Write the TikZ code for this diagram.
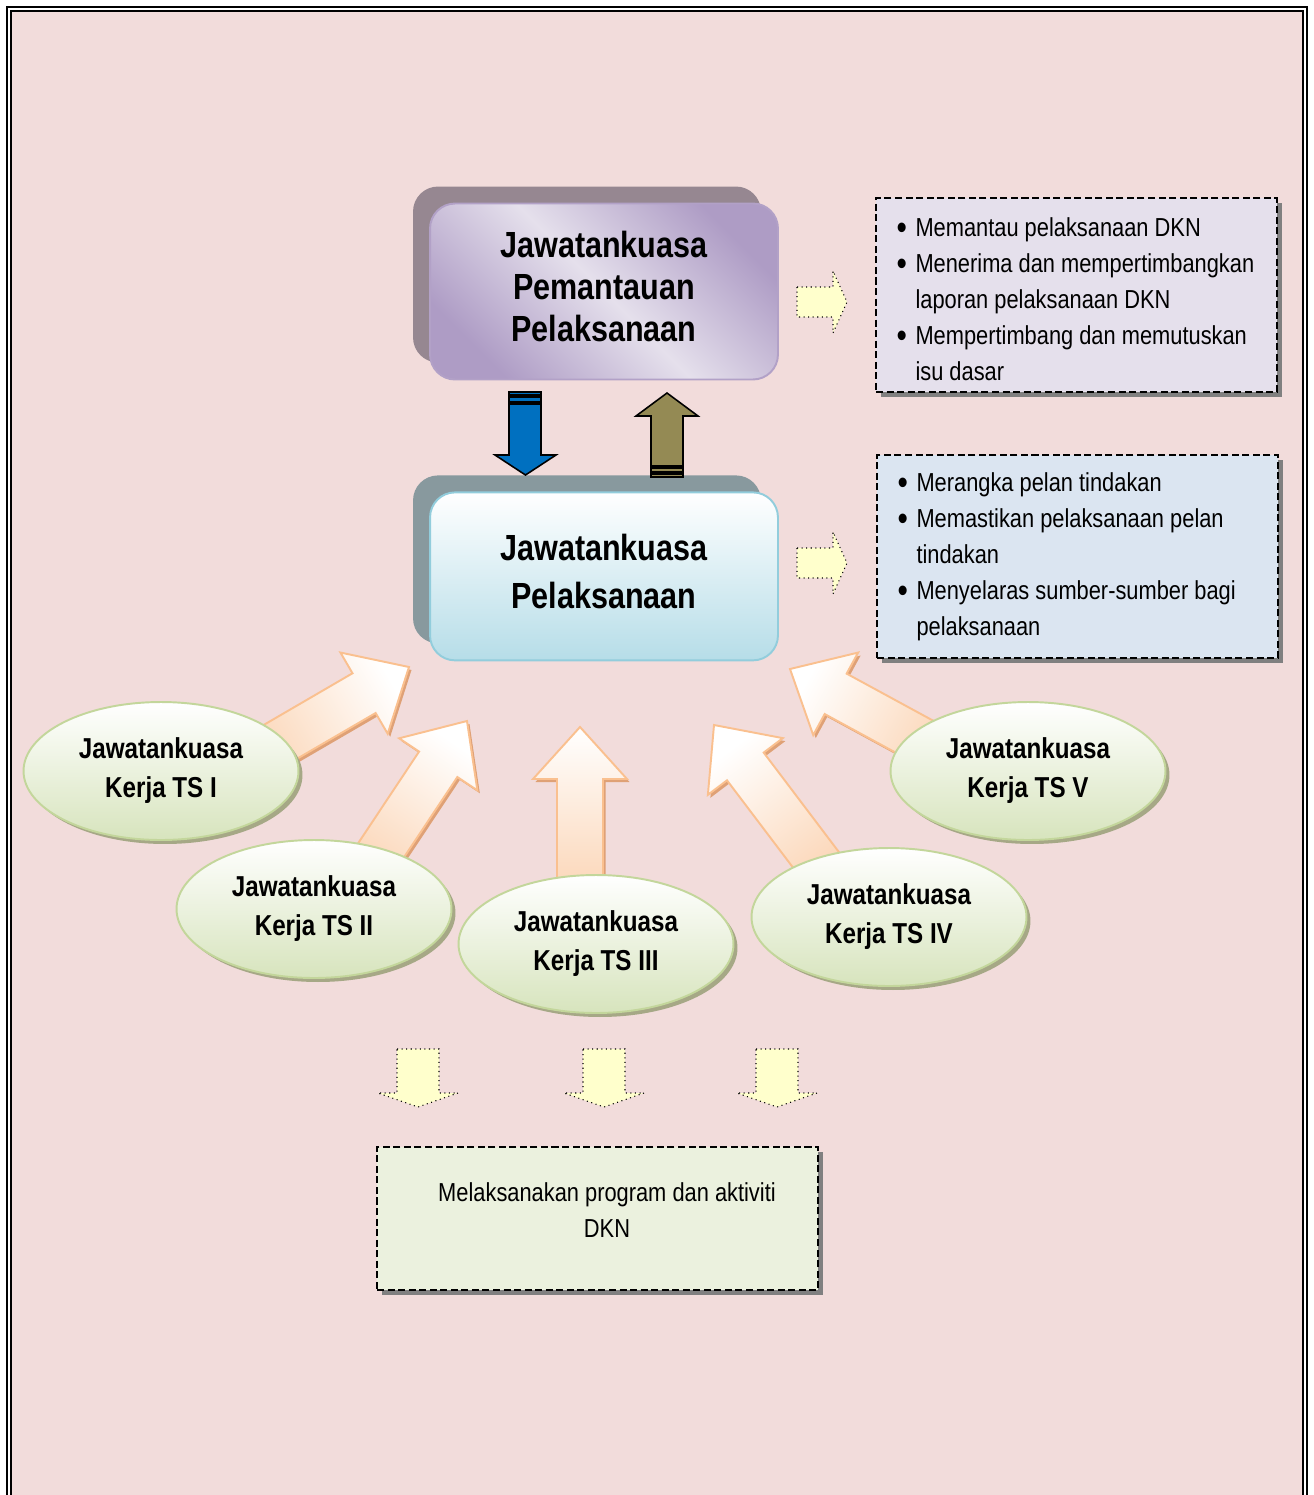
\documentclass[tikz,border=0pt]{standalone}
\usepackage{fontspec}
\setmainfont{Liberation Sans}[FakeStretch=0.84]
\usepackage{tikz}
\usetikzlibrary{positioning,calc,shadows,shapes.geometric}

\definecolor{bgpink}{HTML}{F2DCDB}
\definecolor{lavlite}{HTML}{E5E0EC}
\definecolor{lavdark}{HTML}{AE9CC5}
\definecolor{lavline}{HTML}{B2A1C7}
\definecolor{mauveshadow}{HTML}{968791}
\definecolor{tealfill}{HTML}{B6DDE8}
\definecolor{tealline}{HTML}{92CDDC}
\definecolor{slateshadow}{HTML}{88999E}
\definecolor{bluelite}{HTML}{DBE5F1}
\definecolor{greenlite}{HTML}{EBF1DE}
\definecolor{ovalfill}{HTML}{D7E4BD}
\definecolor{ovalline}{HTML}{C3D69B}
\definecolor{ovalshadow}{HTML}{A6A886}
\definecolor{peach}{HTML}{FBD4B4}
\definecolor{peachline}{HTML}{FAC08F}
\definecolor{peachdark}{HTML}{DFA176}
\definecolor{arrblue}{HTML}{0070C0}
\definecolor{arrolive}{HTML}{948A54}
\definecolor{paleyellow}{HTML}{FFFFCC}

\tikzset{
  borderline/.style={black, line width=0.04cm},
  bigbox/.style={rectangle, rounded corners=0.5cm, minimum width=6.96cm, align=center, line width=1.1pt, text depth=0.2cm},
  oval/.style={ellipse, draw=ovalline, line width=1.1pt, top color=white, bottom color=ovalfill,
    minimum width=5.5cm, minimum height=2.76cm, align=center, inner sep=0pt,
    font=\bfseries\fontsize{16.4}{22.2}\selectfont,
    drop shadow={shadow xshift=0.08cm, shadow yshift=-0.08cm, fill=ovalshadow, opacity=1}},
  notebox/.style={rectangle, draw=black, dash pattern=on 4pt off 2pt, line width=1pt, minimum width=8.02cm,
    drop shadow={shadow xshift=0.1cm, shadow yshift=-0.1cm, fill=gray, opacity=1}},
  listtext/.style={align=left, inner sep=0pt, font=\fontsize{14.8}{20.5}\selectfont},
  fatbody/.style={top color=white, bottom color=peach, draw=peachline, line width=1.1pt},
  fatshade/.style={fill=peachdark},
  dotarrow/.style={fill=paleyellow, draw=black, dotted, line width=0.6pt},
  blockarrow/.style={draw=black, line width=0.9pt}
}

\newcommand\bul{\makebox[0.38cm][l]{\raisebox{-2pt}{\fontsize{20}{20}\selectfont\textbullet}}}
\newcommand\cont{\hspace*{0.38cm}}
\newcommand\fatpath[2]{($(#1)!0.46cm!90:(#2)$) -- ($(fa-n)!0.46cm!90:(#2)$) -- ($(fa-n)!0.94cm!90:(#2)$) -- (#2)
  -- ($(fa-n)!0.94cm!-90:(#2)$) -- ($(fa-n)!0.46cm!-90:(#2)$) -- ($(#1)!0.46cm!-90:(#2)$) -- cycle}
\newcommand\fatarrow[3]{%
  \coordinate (fa-n) at ($(#2)!1.04cm!(#1)$);
  \fill[fatshade, transform canvas={xshift=0.05cm, yshift=-0.06cm}] \fatpath{#1}{#2};
  \draw[fatbody, shading angle=#3] \fatpath{#1}{#2};
}

\begin{document}
\begin{tikzpicture}[x=0.02cm, y=-0.02cm]
	\useasboundingbox (0,0) rectangle (1313,1495);
	\fill[white] (0,0) rectangle (1313,1495);
	\fill[bgpink] (12,12) rectangle (1302,1495);
	\draw[borderline] (7,1495) -- (7,7) -- (1307,7) -- (1307,1495);
	\draw[borderline] (11,1495) -- (11,11) -- (1303,11) -- (1303,1495);

	% arrows from the working committees
	\coordinate (s1) at (244,763);  \coordinate (t1) at (409,667);
	\coordinate (s2) at (360,882);  \coordinate (t2) at (467,721);
	\coordinate (s3) at (580,900);  \coordinate (t3) at (580,727);
	\coordinate (s4) at (835,885);  \coordinate (t4) at (714,725);
	\coordinate (s5) at (950,756);  \coordinate (t5) at (790,669);
	\fatarrow{s1}{t1}{-60}
	\fatarrow{s2}{t2}{-34}
	\fatarrow{s3}{t3}{0}
	\fatarrow{s4}{t4}{37}
	\fatarrow{s5}{t5}{61}

	\node[oval] (ts1) at (161,771) {Jawatankuasa\\Kerja TS I};
	\node[oval] (ts2) at (314,909) {Jawatankuasa\\Kerja TS II};
	\node[oval] (ts3) at (596,944) {Jawatankuasa\\Kerja TS III};
	\node[oval] (ts4) at (889,917) {Jawatankuasa\\Kerja TS IV};
	\node[oval] (ts5) at (1028,771) {Jawatankuasa\\Kerja TS V};

	\node[bigbox, draw=lavline, left color=lavdark, right color=lavdark, middle color=lavlite, shading angle=-45,
		minimum height=3.52cm, font=\bfseries\fontsize{20.7}{23.9}\selectfont,
		drop shadow={shadow xshift=-0.34cm, shadow yshift=0.34cm, fill=mauveshadow, opacity=1}]
		(jpp) at (604,291.5) {Jawatankuasa\\Pemantauan\\Pelaksanaan};
	\node[bigbox, draw=tealline, top color=white, bottom color=tealfill,
		minimum height=3.36cm, font=\bfseries\fontsize{20.7}{27.3}\selectfont,
		drop shadow={shadow xshift=-0.34cm, shadow yshift=0.34cm, fill=slateshadow, opacity=1}]
		(jp) [below=2.22cm of jpp] {Jawatankuasa\\Pelaksanaan};

	% blue down and olive up
	\draw[blockarrow, fill=arrblue] (509,392) rectangle (541,395);
	\draw[blockarrow, fill=arrblue] (509,397) rectangle (541,402);
	\draw[blockarrow, fill=arrblue] (509,404) -- (541,404) -- (541,455) -- (556,455) -- (525.5,475) -- (495,455) -- (509,455) -- cycle;
	\draw[blockarrow, fill=arrolive] (651,466) -- (651,416) -- (636,416) -- (667,393) -- (698,416) -- (683,416) -- (683,466) -- cycle;
	\draw[blockarrow, fill=arrolive] (651,468) rectangle (683,472);
	\draw[blockarrow, fill=arrolive] (651,474) rectangle (683,477);

	\foreach \y in {302,563}
		\draw[dotarrow] (797,\y-15) -- (833,\y-15) -- (833,\y-31) -- (847,\y) -- (833,\y+31) -- (833,\y+15) -- (797,\y+15) -- cycle;

	\node[notebox, fill=lavlite, minimum height=3.88cm] (duties1) at (1076.5,295) {};
	\node[listtext, anchor=west] (duties1txt) at ([xshift=0.42cm, yshift=-0.08cm]duties1.west)
		{\bul Memantau pelaksanaan DKN\\ \bul Menerima dan mempertimbangkan\\ \cont laporan pelaksanaan DKN\\
		 \bul Mempertimbang dan memutuskan\\ \cont isu dasar};
	\node[notebox, fill=bluelite, minimum height=4.06cm] (duties2) at (1077.5,556.5) {};
	\node[listtext, anchor=west] (duties2txt) at ([xshift=0.42cm]duties2.west)
		{\bul Merangka pelan tindakan\\ \bul Memastikan pelaksanaan pelan\\ \cont tindakan\\
		 \bul Menyelaras sumber-sumber bagi\\ \cont pelaksanaan};

	\foreach \x in {418,604,777}
		\draw[dotarrow] (\x-21,1049) -- (\x+21,1049) -- (\x+21,1093) -- (\x+40,1093) -- (\x,1107) -- (\x-40,1093) -- (\x-21,1093) -- cycle;

	\node[notebox, fill=greenlite, minimum width=8.82cm, minimum height=2.86cm] (impl) at (597.5,1218.5) {};
	\node[listtext, align=center] (impltxt) at (607,1210) {Melaksanakan program dan aktiviti\\DKN};
\end{tikzpicture}
\end{document}
